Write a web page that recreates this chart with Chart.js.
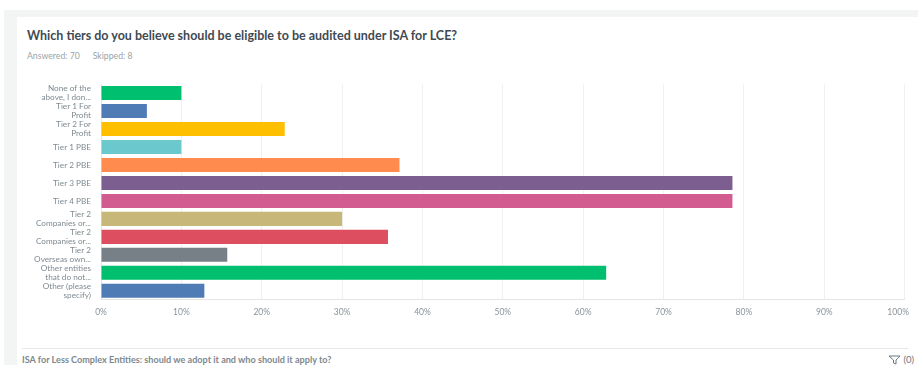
<!DOCTYPE html>
<html>
<head>
<meta charset="utf-8">
<script src="https://cdn.jsdelivr.net/npm/chart.js@4"></script>
<style>
    html, body { margin: 0; padding: 0; background: #fff; overflow: hidden; }
    body { position: relative; width: 918px; height: 365px; font-family: Lato, sans-serif; }
    #band { position: absolute; left: 4px; top: 10px; width: 914px; height: 355px; background: #f3f5f5; }
    #card { position: absolute; left: 17px; top: 17px; width: 901px; height: 348px; background: #fff; }
    #title { position: absolute; left: 27px; top: 28px; font-size: 12.500px; font-weight: 700; color: #3f4a52; white-space: nowrap; }
    #stats { position: absolute; left: 27px; top: 50px; font-size: 8.700px; color: #9aa3a8; white-space: nowrap; }
    #stats span { margin-right: 13px; }
    #rule { position: absolute; left: 22px; top: 348px; width: 886px; height: 1px; background: #e6e8e8; }
    #footer { position: absolute; left: 22px; top: 354px; font-size: 9.100px; font-weight: 700; color: #7d888e; white-space: nowrap; }
    #filter { position: absolute; left: 888px; top: 354px; font-size: 9.500px; color: #6b767c; white-space: nowrap; }
    #filter svg { vertical-align: -2px; }
    #statsChart { position: absolute; left: 0; top: 65px; }
</style>
</head>
<body>
<div id="band"></div>
<div id="card"></div>
<div id="title">Which tiers do you believe should be eligible to be audited under ISA for LCE?</div>
<div id="stats"><span>Answered: 70</span><span>Skipped: 8</span></div>
<canvas id="statsChart" width="929" height="259"></canvas>
<div id="rule"></div>
<div id="footer">ISA for Less Complex Entities: should we adopt it and who should it apply to?</div>
<div id="filter"><svg width="13" height="10" viewBox="0 0 13 10"><path d="M1 1h11L8 5v4L5.500 8V5z" fill="none" stroke="#6b767c"/></svg> (0)</div>
<script>
// answer options, wrapped the way the axis shows them
let categories = [
    ["None of the", "above, I don..."],
    ["Tier 1 For", "Profit"],
    ["Tier 2 For", "Profit"],
    "Tier 1 PBE",
    "Tier 2 PBE",
    "Tier 3 PBE",
    "Tier 4 PBE",
    ["Tier 2", "Companies or..."],
    ["Tier 2", "Companies or..."],
    ["Tier 2", "Overseas own..."],
    ["Other entities", "that do not..."],
    ["Other (please", "specify)"]
];
// share of the 70 respondents, in percent
let percentages = [10, 5.71, 22.86, 10, 37.14, 78.57, 78.57, 30, 35.71, 15.71, 62.86, 12.86];
let barColors = [
    "#00bf6f", "#507cb6", "#fdbf00", "#6bc8cd", "#ff8b4f", "#7d5e90",
    "#d25c90", "#c7b879", "#dd4f60", "#768086", "#00bf6f", "#507cb6"
];
let xTicks = [0, 10, 20, 30, 40, 50, 60, 70, 80, 90, 100];

let ctx = document.getElementById("statsChart");
let tierChart = new Chart(ctx, {
    type: "bar",
    data: {
        labels: categories,
        datasets: [{
            data: percentages,
            backgroundColor: barColors,
            borderWidth: 0,
            barPercentage: 0.78,
            categoryPercentage: 1
        }]
    },
    options: {
        indexAxis: "y",
        responsive: false,
        animation: false,
        layout: { padding: { top: 18, right: 0, bottom: 0, left: 0 } },
        plugins: {
            legend: { display: false },
            tooltip: { enabled: false }
        },
        scales: {
            x: {
                min: 0,
                max: 100,
                afterBuildTicks: (axis) => { axis.ticks = xTicks.map((v) => ({ value: v })); },
                grid: { color: "#eff0f0", drawTicks: false },
                border: { color: "#e4e6e6" },
                ticks: {
                    padding: 7,
                    maxRotation: 0,
                    color: "#8a9399",
                    font: { family: "Lato", size: 8.5 },
                    // nudge the last label left so it stays inside the card
                    callback: (v) => v === 100 ? "100%\u00a0\u00a0\u00a0\u00a0\u00a0\u00a0" : v + "%"
                }
            },
            y: {
                afterFit: (axis) => { axis.width = 101; },
                grid: { display: false, drawTicks: false },
                border: { color: "#e4e6e6" },
                ticks: {
                    padding: 10,
                    autoSkip: false,
                    color: "#7f8a90",
                    font: { family: "Lato", size: 8.2, lineHeight: 1.1 }
                }
            }
        }
    }
});
</script>
</body>
</html>
